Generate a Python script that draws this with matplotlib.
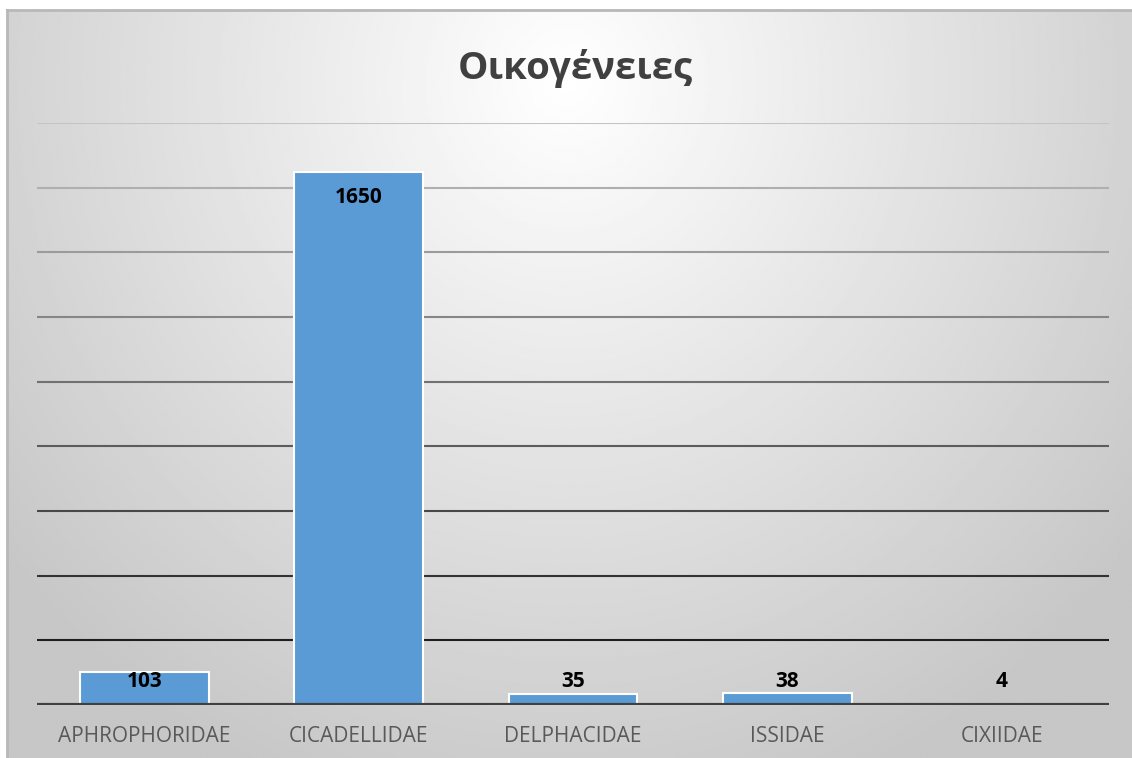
import numpy as np
import matplotlib.pyplot as plt
from matplotlib.colors import to_rgb

# data
families = ["APHROPHORIDAE", "CICADELLIDAE", "DELPHACIDAE", "ISSIDAE", "CIXIIDAE"]
counts = [103, 1650, 35, 38, 4]
title = "Οικογένειες"
grid_values = [200, 400, 600, 800, 1000, 1200, 1400, 1600, 1800]

W, H = 1132, 758
fig = plt.figure(figsize=(W / 100, H / 100), dpi=100)
fig.patch.set_facecolor("white")

# chart area with radial gradient background
bg = fig.add_axes([7 / W, 0, 1 - 7 / W, (H - 10) / H])
xx, yy = np.meshgrid(np.linspace(7, W, 400), np.linspace(10, H, 300))
d = np.sqrt(((xx - 566) / 720) ** 2 + ((yy - 80) / 760) ** 2)
shade = 1.0 - (1.0 - 0.78) * np.clip(d, 0, 1)
bg.imshow(shade, cmap="gray", vmin=0, vmax=1, aspect="auto",
          extent=[0, 1, 0, 1], origin="upper")
bg.set_xlim(0, 1)
bg.set_ylim(0, 1)
bg.set_xticks([])
bg.set_yticks([])
for s in ["left", "top"]:
    bg.spines[s].set_color("#b8b8b8")
    bg.spines[s].set_linewidth(2)
for s in ["right", "bottom"]:
    bg.spines[s].set_visible(False)

ax = fig.add_axes([37 / W, 53 / H, 1072 / W, 582 / H])
ax.patch.set_alpha(0)
ax.set_xlim(-0.5, len(families) - 0.5)
ax.set_ylim(0, 1800)

# gridlines get darker towards the bottom
c_top = np.array(to_rgb("#c4c4c4"))
c_bot = np.array(to_rgb("#1e1e1e"))
for g in grid_values:
    t = (g - grid_values[0]) / (grid_values[-1] - grid_values[0])
    ax.axhline(g, color=c_bot + (c_top - c_bot) * t, lw=1.5, zorder=1)
ax.axhline(0, color="#404040", lw=3, zorder=3)

x = np.arange(len(families))
ax.bar(x, counts, width=0.6, color="#5b9bd5", edgecolor="white",
       linewidth=1.5, zorder=2)

for xi, v in zip(x, counts):
    ax.text(xi, max(v - 80, 74), str(v), ha="center", va="center",
            fontsize=15, fontweight="bold", color="black",
            family="Open Sans", zorder=4)

ax.set_xticks(x)
ax.set_xticklabels(families, fontsize=15, color="#595959", family="Open Sans")
ax.tick_params(axis="x", length=0, pad=15)
ax.set_yticks([])
for s in ax.spines.values():
    s.set_visible(False)

fig.text(575 / W, 1 - 69 / H, title, ha="center", va="center",
         fontsize=27.5, fontweight="bold", color="#404040", family="Open Sans")

fig.savefig("out.png", dpi=100)
